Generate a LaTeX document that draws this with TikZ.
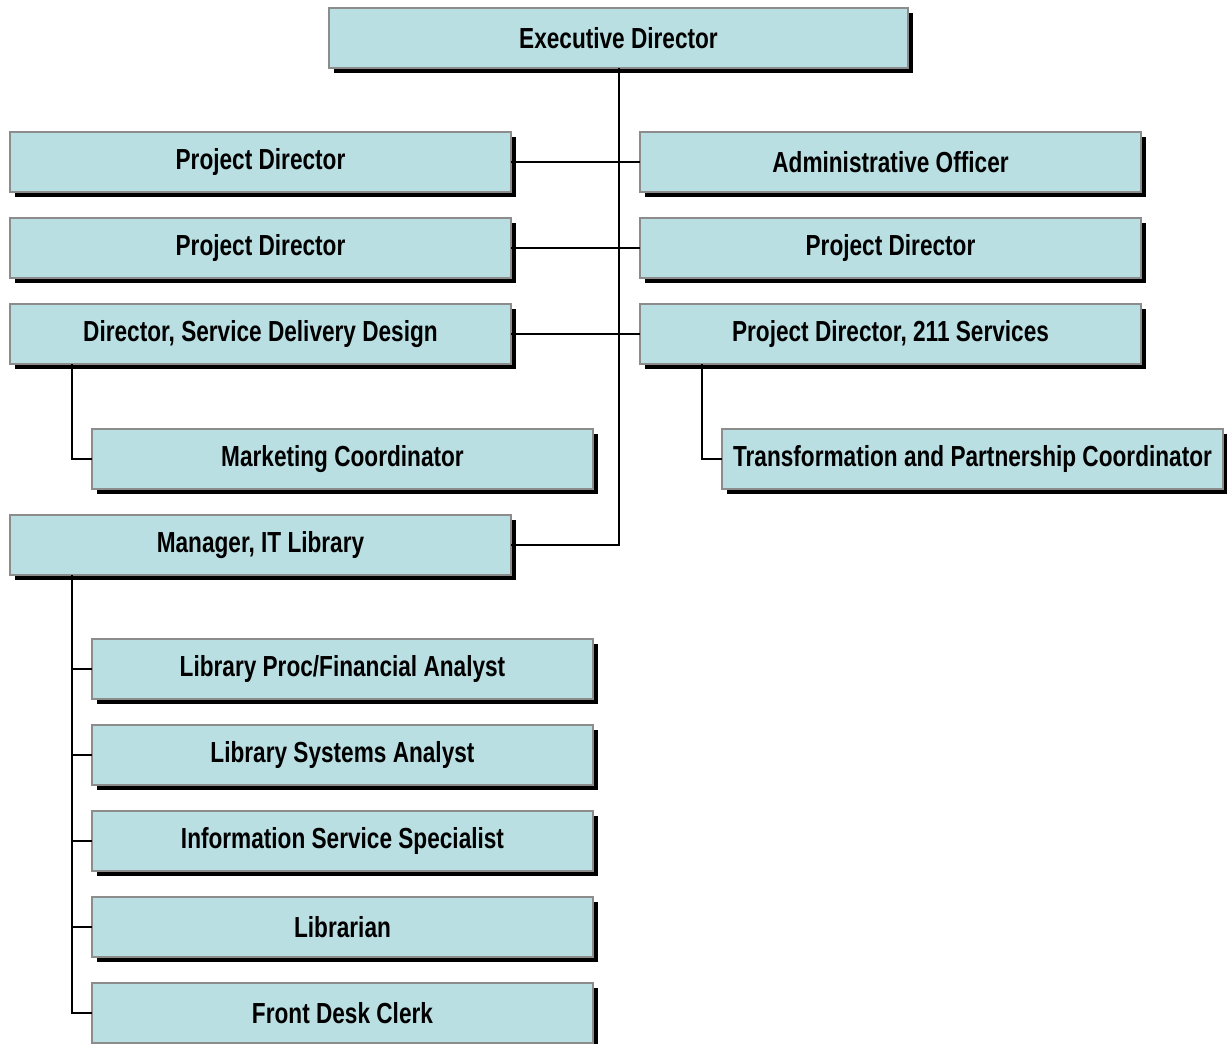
\documentclass[tikz,border=0pt]{standalone}
\usepackage{fontspec}
\setmainfont{Liberation Sans}[FakeStretch=0.78]
\usetikzlibrary{shadows}
\definecolor{boxfill}{HTML}{B9DFE3}
\definecolor{boxedge}{HTML}{8C8C8C}
\tikzset{
  orgbox/.style={draw=boxedge, line width=2pt, fill=boxfill,
    minimum width=501pt, minimum height=60pt, inner sep=0pt, outer sep=0pt,
    font=\fontsize{29}{32}\selectfont\bfseries,
    drop shadow={shadow xshift=5pt, shadow yshift=-5pt, fill=black, opacity=1}},
  link/.style={draw=black, line width=2pt}
}
\begin{document}
\begin{tikzpicture}[x=1pt,y=-1pt]
\useasboundingbox (0,0) rectangle (1227,1044);
\node[orgbox, minimum width=579pt] (ed) at (618.5,38) {Executive Director};
\node[orgbox] (pd1) at (260.5,162) {Project Director};
\node[orgbox] (ao) at (890.5,162) {Administrative Officer};
\node[orgbox] (pd2) at (260.5,248) {Project Director};
\node[orgbox] (pd3) at (890.5,248) {Project Director};
\node[orgbox] (sdd) at (260.5,334) {Director, Service Delivery Design};
\node[orgbox] (p211) at (890.5,334) {Project Director, 211 Services};
\node[orgbox] (mkt) at (342.5,459) {Marketing Coordinator};
\node[orgbox] (tpc) at (972.5,459) {Transformation and Partnership Coordinator};
\node[orgbox] (mgr) at (260.5,545) {Manager, IT Library};
\node[orgbox] (lpf) at (342.5,669) {Library Proc/Financial Analyst};
\node[orgbox] (lsa) at (342.5,755) {Library Systems Analyst};
\node[orgbox] (iss) at (342.5,841) {Information Service Specialist};
\node[orgbox] (lib) at (342.5,927) {Librarian};
\node[orgbox] (fdc) at (342.5,1013) {Front Desk Clerk};
% connectors
\draw[link] (ed.south) -- (ed.south |- mgr.east) -- (mgr.east);
\draw[link] (pd1.east) -- (ao.west);
\draw[link] (pd2.east) -- (pd3.west);
\draw[link] (sdd.east) -- (p211.west);
\coordinate (sddb) at ([xshift=62pt]sdd.south west);
\draw[link] (sddb) |- (mkt.west);
\coordinate (p211b) at ([xshift=62pt]p211.south west);
\draw[link] (p211b) |- (tpc.west);
\coordinate (mgrb) at ([xshift=62pt]mgr.south west);
\draw[link] (mgrb) |- (fdc.west);
\draw[link] (mgrb |- lpf.west) -- (lpf.west);
\draw[link] (mgrb |- lsa.west) -- (lsa.west);
\draw[link] (mgrb |- iss.west) -- (iss.west);
\draw[link] (mgrb |- lib.west) -- (lib.west);
\end{tikzpicture}
\end{document}
